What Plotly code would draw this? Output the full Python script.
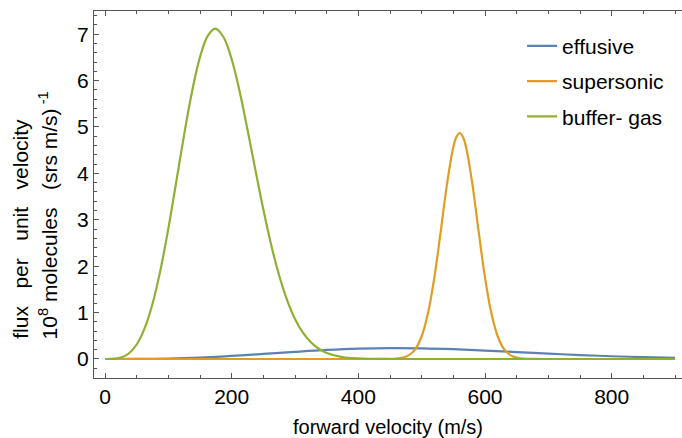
import plotly.graph_objects as go

# Forward velocity grid (m/s) and flux per unit velocity (1e8 molecules per sr s per m/s)
effusive_v = [0, 50, 100, 150, 200, 250, 300, 350, 400, 450, 500, 550, 600, 650, 700, 750, 800, 850, 900]
effusive_flux = [0.0, 0.0013, 0.010, 0.031, 0.065, 0.108, 0.154, 0.195, 0.223, 0.235, 0.230, 0.211, 0.182, 0.149, 0.115, 0.085, 0.059, 0.040, 0.026]

supersonic_v = [0, 420, 440, 460, 470, 480, 490, 500, 510, 520, 530, 540, 550, 555, 560,
                565, 570, 580, 590, 600, 610, 620, 630, 640, 650, 660, 680, 700, 900]
supersonic_flux = [0.0, 0.0, 0.001, 0.008, 0.028, 0.082, 0.214, 0.49, 0.99, 1.755, 2.743, 3.773, 4.569, 4.79, 4.87,
                   4.79, 4.569, 3.773, 2.743, 1.755, 0.99, 0.49, 0.214, 0.082, 0.028, 0.008, 0.001, 0.0, 0.0]

buffer_v = [0, 10, 25, 37.5, 50, 62.5, 75, 87.5, 100, 112.5, 125, 137.5, 150, 162, 174, 187, 200,
            212.5, 225, 237.5, 250, 262.5, 275, 287.5, 300, 312.5, 325, 337.5, 350, 375, 400, 425, 450, 500, 900]
buffer_flux = [0.0, 0.0016, 0.031, 0.118, 0.312, 0.658, 1.19, 1.915, 2.81, 3.82, 4.84, 5.77, 6.51, 6.96, 7.12, 6.94, 6.46,
               5.77, 4.94, 4.07, 3.22, 2.45, 1.80, 1.27, 0.864, 0.567, 0.36, 0.22, 0.13, 0.041, 0.011, 0.003, 0.0, 0.0, 0.0]

x_ticks = [0, 200, 400, 600, 800]
y_ticks = [0, 1, 2, 3, 4, 5, 6, 7]

series = [
    ("effusive", effusive_v, effusive_flux, "#5E81B5"),
    ("supersonic", supersonic_v, supersonic_flux, "#E19C24"),
    ("buffer- gas", buffer_v, buffer_flux, "#8FB032"),
]

FONT = "Liberation Sans, Arial, Helvetica, sans-serif"
AXIS = "#555555"

fig = go.Figure()
for i, (name, xs, ys, color) in enumerate(series):
    fig.add_trace(go.Scatter(
        x=xs, y=ys, name=name, mode="lines",
        line=dict(color=color, width=2.2, shape="spline", smoothing=1.0),
        legendgroup=f"g{i}",
    ))

fig.update_layout(
    width=682, height=438,
    margin=dict(l=94, r=0, t=11, b=60),
    paper_bgcolor="white", plot_bgcolor="white",
    font=dict(family=FONT, size=21, color="black"),
    showlegend=True,
    legend=dict(
        x=0.728, y=0.96, xanchor="left", yanchor="top",
        bgcolor="rgba(0,0,0,0)", borderwidth=0,
        font=dict(size=21), tracegroupgap=5,
    ),
    xaxis=dict(
        range=[-17.4, 911.05], tickvals=x_ticks, ticktext=[str(t) for t in x_ticks],
        ticks="inside", ticklen=5, tickwidth=1, tickcolor=AXIS,
        showline=True, linecolor=AXIS, linewidth=1, mirror="ticks",
        showgrid=False, zeroline=False,
        minor=dict(dtick=50, ticks="inside", ticklen=3, tickcolor=AXIS, showgrid=False),
        tickfont=dict(size=21),
        title=dict(text="forward velocity (m/s)", font=dict(size=20), standoff=12),
    ),
    yaxis=dict(
        range=[-0.41, 7.50], tickvals=y_ticks, ticktext=[str(t) for t in y_ticks],
        ticks="inside", ticklen=5, tickwidth=1, tickcolor=AXIS,
        showline=True, linecolor=AXIS, linewidth=1, mirror=False,
        showgrid=False, zeroline=False,
        minor=dict(dtick=0.2, ticks="inside", ticklen=3, tickcolor=AXIS, showgrid=False),
        tickfont=dict(size=21),
    ),
)

# Two-line rotated y-axis label, both lines starting from the same baseline point
fig.add_annotation(
    text="flux\u00a0\u00a0\u00a0per\u00a0\u00a0\u00a0unit\u00a0\u00a0\u00a0velocity",
    xref="paper", yref="paper", x=-0.125, y=0.10, xanchor="center", yanchor="bottom",
    textangle=-90, showarrow=False, font=dict(size=21),
)
fig.add_annotation(
    text="10<sup>8</sup>\u00a0molecules\u00a0\u00a0\u00a0(srs\u00a0m/s)<sup>\u00a0-1</sup>",
    xref="paper", yref="paper", x=-0.078, y=0.10, xanchor="center", yanchor="bottom",
    textangle=-90, showarrow=False, font=dict(size=21),
)

fig.write_html("out.html")
